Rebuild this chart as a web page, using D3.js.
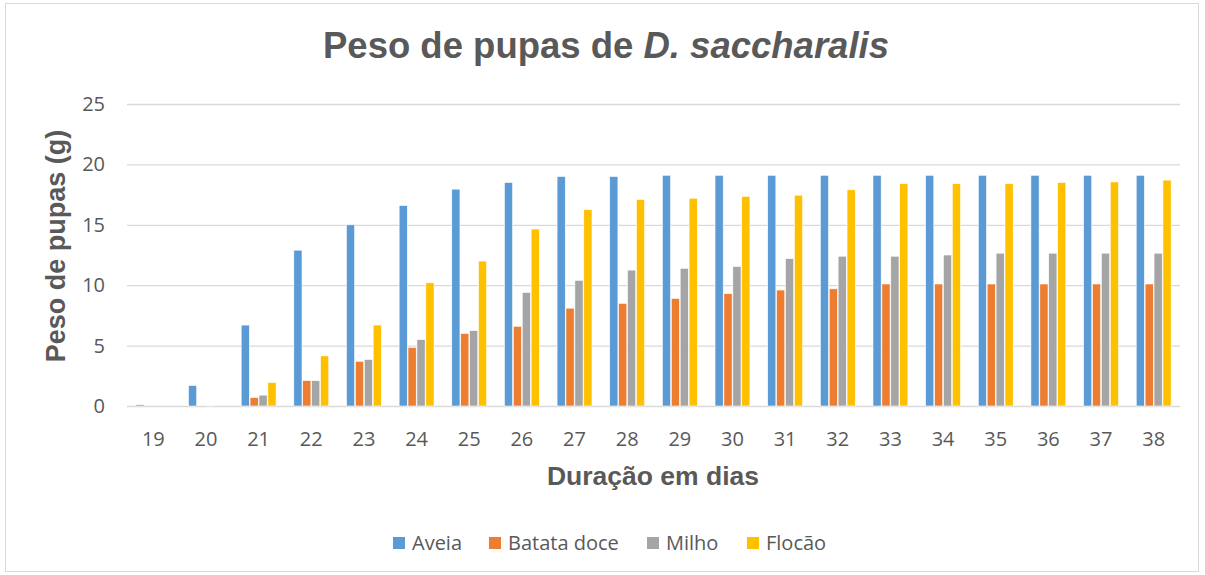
<!DOCTYPE html>
<html>
<head>
<meta charset="utf-8">
<script src="https://cdnjs.cloudflare.com/ajax/libs/d3/7.8.5/d3.min.js"></script>
<style>
  body { margin: 0; background: #fff; }
  text { fill: #595959; }
</style>
</head>
<body>
<svg id="chart" width="1205" height="575"></svg>
<script>
// days (x categories)
var dias = ["19","20","21","22","23","24","25","26","27","28","29","30","31","32","33","34","35","36","37","38"];
var seriesNames = ["Aveia", "Batata doce", "Milho", "Flocão"];
var seriesColors = ["#5B9BD5", "#ED7D31", "#A5A5A5", "#FFC000"];

// values (g)
var aveia     = [0.1, 1.7, 6.7, 12.9, 15.0, 16.6, 17.95, 18.5, 19.0, 19.0, 19.1, 19.1, 19.1, 19.1, 19.1, 19.1, 19.1, 19.1, 19.1, 19.1];
var batataDoce = [0, 0, 0.7, 2.1, 3.7, 4.85, 6.0, 6.6, 8.1, 8.5, 8.9, 9.3, 9.6, 9.7, 10.1, 10.1, 10.1, 10.1, 10.1, 10.1];
var milho     = [0, 0.05, 0.9, 2.1, 3.85, 5.5, 6.25, 9.4, 10.4, 11.25, 11.4, 11.55, 12.2, 12.4, 12.4, 12.5, 12.65, 12.65, 12.65, 12.65];
var flocao    = [0, 0, 1.95, 4.15, 6.7, 10.2, 12.0, 14.65, 16.25, 17.1, 17.2, 17.35, 17.45, 17.9, 18.4, 18.4, 18.4, 18.5, 18.55, 18.7];
var yTicks = [0, 5, 10, 15, 20, 25];

var allSeries = [aveia, batataDoce, milho, flocao];

function drawChart() {
  var svg = d3.select("#chart"),
      plotLeft = 127, plotRight = 1180, plotTop = 104, plotBottom = 406;
  var labelFont = "'Open Sans', Lato, sans-serif";
  var titleFont = "'Liberation Sans', Arial, sans-serif";

  // outer border
  svg.append("rect")
    .attr("x", 5.5).attr("y", 3.5)
    .attr("width", 1193).attr("height", 568)
    .attr("fill", "#fff")
    .attr("stroke", "#d9d9d9");

  var x0 = d3.scaleBand().domain(dias).range([plotLeft, plotRight]).paddingInner(0.31).paddingOuter(0.155);
  var x1 = d3.scaleBand().domain(seriesNames).range([0, x0.bandwidth()]).padding(0.08);
  var y = d3.scaleLinear().domain([0, 25]).range([plotBottom, plotTop]);

  // gridlines
  svg.append("g").selectAll("line")
    .data(yTicks)
    .enter().append("line")
      .attr("x1", plotLeft).attr("x2", plotRight)
      .attr("y1", function(d){ return y(d) + 0.5; })
      .attr("y2", function(d){ return y(d) + 0.5; })
      .attr("stroke", "#d9d9d9")
      .attr("stroke-width", 1.3);

  // y tick labels
  svg.append("g").selectAll("text")
    .data(yTicks)
    .enter().append("text")
      .attr("x", 105)
      .attr("y", function(d){ return y(d) + 7; })
      .attr("text-anchor", "end")
      .style("font-family", labelFont)
      .style("font-size", "20px")
      .text(function(d){ return d; });

  // x tick labels
  svg.append("g").selectAll("text")
    .data(dias)
    .enter().append("text")
      .attr("x", function(d){ return x0(d) + x0.bandwidth() / 2; })
      .attr("y", 446)
      .attr("text-anchor", "middle")
      .style("font-family", labelFont)
      .style("font-size", "20px")
      .text(function(d){ return d; });

  // bars, one group per series
  allSeries.forEach(function(values, s) {
    svg.append("g").selectAll("rect")
      .data(values)
      .enter().append("rect")
        .attr("x", function(d, i){ return x0(dias[i]) + x1(seriesNames[s]); })
        .attr("y", function(d){ return y(d); })
        .attr("width", x1.bandwidth())
        .attr("height", function(d){ return plotBottom - y(d); })
        .attr("fill", seriesColors[s])
        .attr("stroke", "#fff")
        .attr("stroke-width", 0.6);
  });

  // title
  var title = svg.append("text")
    .attr("x", 606)
    .attr("y", 58)
    .attr("text-anchor", "middle")
    .style("font-family", titleFont)
    .style("font-size", "36.5px")
    .style("font-weight", "bold");
  title.append("tspan").text("Peso de pupas de ");
  title.append("tspan").style("font-style", "italic").text("D. saccharalis");

  // axis titles
  svg.append("text")
    .attr("transform", "translate(65,246) rotate(-90)")
    .attr("text-anchor", "middle")
    .style("font-family", titleFont)
    .style("font-size", "27px")
    .style("font-weight", "bold")
    .text("Peso de pupas (g)");

  svg.append("text")
    .attr("x", 653)
    .attr("y", 485)
    .attr("text-anchor", "middle")
    .style("font-family", titleFont)
    .style("font-size", "26.5px")
    .style("font-weight", "bold")
    .text("Duração em dias");

  // legend
  var legendX = [393, 489, 647, 747];
  var legend = svg.append("g").selectAll("g")
    .data(seriesNames)
    .enter().append("g")
      .attr("transform", function(d, i){ return "translate(" + legendX[i] + ",537)"; });
  legend.append("rect")
    .attr("width", 12).attr("height", 12)
    .attr("fill", function(d, i){ return seriesColors[i]; });
  legend.append("text")
    .attr("x", 19).attr("y", 13)
    .style("font-family", labelFont)
    .style("font-size", "20px")
    .text(function(d){ return d; });
}

drawChart();
</script>
</body>
</html>
